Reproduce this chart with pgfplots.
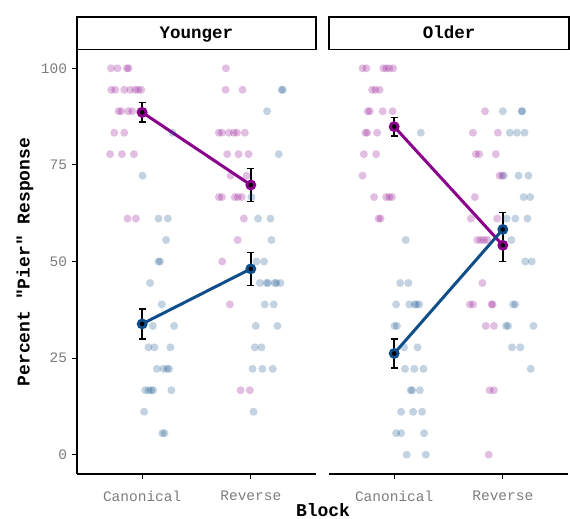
\documentclass[border=0pt]{standalone}
\usepackage{fontspec}
\setmainfont{Liberation Mono}[Ligatures=TeXOff]
\usepackage{pgfplots}
\pgfplotsset{compat=1.18}
\definecolor{pur}{RGB}{139,0,139}
\definecolor{blu}{RGB}{16,78,139}
\definecolor{tickgray}{RGB}{125,125,125}
\pgfplotsset{
  panel/.style={
    scale only axis, width=239pt, height=425pt,
    xmin=0.4, xmax=2.6, ymin=-5, ymax=105,
    axis x line*=bottom,
    tick pos=left,
    xtick={1,2}, xticklabels={Canonical,Reverse},
    ytick={0,25,50,75,100},
    tick align=outside,
    major tick length=5pt,
    axis line style={line width=1.3pt, black},
    tick style={line width=1.1pt, black},
    ticklabel style={font=\fontsize{14.5}{15}\selectfont, text=tickgray},
    xticklabel style={yshift=-8pt},
    yticklabel style={xshift=-1.5pt},
    /pgf/number format/assume math mode=true,
    clip=false,
  },
  jit/.style={only marks, mark=*, mark size=4pt, mark options={draw opacity=0, fill=#1, fill opacity=0.25}},
  mn/.style={line width=3pt, color=#1, mark=*, mark size=5.5pt, mark options={draw opacity=0, fill=#1}},
  eb/.style={only marks, mark=none,
    /pgfplots/error bars/y dir=both, /pgfplots/error bars/y explicit,
    /pgfplots/error bars/error bar style={draw=black, line width=1.5pt},
    /pgfplots/error bars/error mark options={draw=black, rotate=90, mark size=3.5pt, line width=1.5pt}},
}
\begin{document}
\begin{tikzpicture}[x=1pt,y=1pt]
\path[use as bounding box] (0,0) rectangle (570,519);
% ---------------- Younger ----------------
\begin{axis}[panel, at={(77pt,45pt)}, anchor=south west, axis y line*=left]
\addplot[jit=pur] coordinates {
(0.713,100) (0.773,100) (0.860,100) (0.874,100) (1.771,100)
(0.716,94.44) (0.752,94.44) (0.835,94.44) (0.890,94.44) (0.936,94.44) (0.963,94.44) (0.991,94.44) (1.768,94.44) (1.924,94.44)
(0.783,88.89) (0.807,88.89) (0.872,88.89) (0.908,88.89) (0.980,88.89)
(0.743,83.33) (0.835,83.33) (1.706,83.33) (1.734,83.33) (1.798,83.33) (1.844,83.33) (1.872,83.33) (1.945,83.33)
(0.704,77.78) (0.814,77.78) (0.924,77.78) (1.783,77.78) (1.887,77.78) (1.979,77.78)
(1.814,72.22) (1.961,72.22)
(1.706,66.67) (1.734,66.67) (1.853,66.67) (1.881,66.67) (1.917,66.67)
(0.865,61.11) (0.942,61.11) (1.936,61.11)
(1.878,55.56)
(1.737,50)
(1.807,38.89)
(1.906,16.67) (1.991,16.67)
};
\addplot[jit=blu] coordinates {
(2.284,94.44) (2.294,94.44)
(2.150,88.89)
(1.278,83.33)
(2.257,77.78)
(1.003,72.22)
(2.006,66.67)
(1.150,61.11) (1.236,61.11) (2.067,61.11) (2.181,61.11)
(1.220,55.56) (2.190,55.56)
(1.150,50) (1.165,50) (2.052,50) (2.122,50)
(1.073,44.44) (2.083,44.44) (2.144,44.44) (2.159,44.44) (2.220,44.44) (2.236,44.44) (2.272,44.44)
(1.181,38.89) (2.128,38.89) (2.211,38.89)
(1.098,33.33) (1.294,33.33) (2.046,33.33) (2.245,33.33)
(1.058,27.78) (1.113,27.78) (1.260,27.78) (2.037,27.78) (2.098,27.78)
(1.135,22.22) (1.195,22.22) (1.229,22.22) (1.248,22.22) (2.016,22.22) (2.107,22.22) (2.202,22.22)
(1.028,16.67) (1.058,16.67) (1.083,16.67) (1.101,16.67) (1.269,16.67)
(1.018,11.11) (2.025,11.11)
(1.186,5.56) (1.205,5.56)
};
\addplot[mn=pur] coordinates {(1,88.6) (2,69.8)};
\addplot[mn=blu] coordinates {(1,33.85) (2,48.1)};
\addplot[eb] coordinates {(1,88.6) +- (0,2.55) (2,69.8) +- (0,4.3)};
\addplot[eb] coordinates {(1,33.85) +- (0,3.85) (2,48.1) +- (0,4.25)};
\end{axis}
% ---------------- Older ----------------
\begin{axis}[panel, at={(329pt,45pt)}, anchor=south west, axis y line=none]
\addplot[jit=pur] coordinates {
(0.709,100) (0.745,100) (0.900,100) (0.927,100) (0.955,100) (0.991,100)
(0.797,94.44) (0.827,94.44) (0.866,94.44)
(0.757,88.89) (0.775,88.89) (0.894,88.89) (0.985,88.89) (1.836,88.89)
(0.736,83.33) (0.752,83.33) (0.843,83.33) (1.725,83.33) (1.955,83.33)
(0.721,77.78) (0.834,77.78) (1.752,77.78) (1.782,77.78) (1.936,77.78)
(0.709,72.22) (1.970,72.22) (1.995,72.22)
(0.815,66.67) (0.927,66.67) (0.955,66.67) (0.979,66.67) (1.743,66.67)
(0.857,61.11) (0.875,61.11) (1.706,61.11) (1.948,61.11)
(1.766,55.56) (1.797,55.56) (1.827,55.56) (1.857,55.56)
(1.812,44.44)
(1.697,38.89) (1.727,38.89) (1.897,38.89) (1.906,38.89)
(1.843,33.33) (1.918,33.33)
(1.879,16.67) (1.918,16.67)
(1.870,0)
};
\addplot[jit=blu] coordinates {
(2.000,88.89) (2.175,88.89) (2.177,88.89)
(1.245,83.33) (2.064,83.33) (2.130,83.33) (2.200,83.33)
(2.009,72.22) (2.145,72.22) (2.236,72.22)
(2.191,66.67) (2.252,66.67)
(2.034,61.11) (2.115,61.11) (2.227,61.11)
(1.106,55.56) (2.079,55.56)
(2.206,50) (2.266,50)
(1.055,44.44) (1.130,44.44)
(1.018,38.89) (1.139,38.89) (1.188,38.89) (1.206,38.89) (1.230,38.89) (2.094,38.89) (2.115,38.89)
(1.003,33.33) (1.025,33.33) (2.030,33.33) (2.048,33.33) (2.282,33.33)
(1.091,27.78) (1.215,27.78) (2.085,27.78) (2.161,27.78)
(1.100,22.22) (1.185,22.22) (1.270,22.22) (2.257,22.22)
(1.152,16.67) (1.166,16.67) (1.236,16.67)
(1.064,11.11) (1.175,11.11) (1.257,11.11)
(1.018,5.56) (1.064,5.56) (1.275,5.56)
(1.115,0) (1.291,0)
};
\addplot[mn=pur] coordinates {(1,84.9) (2,54.2)};
\addplot[mn=blu] coordinates {(1,26.2) (2,58.3)};
\addplot[eb] coordinates {(1,84.9) +- (0,2.4) (2,54.2) +- (0,4.2)};
\addplot[eb] coordinates {(1,26.2) +- (0,3.75) (2,58.3) +- (0,4.4)};
\end{axis}
% strips
\draw[line width=1.3pt, fill=white] (77,469.5) rectangle (316,502);
\node[anchor=base, font=\bfseries\fontsize{17.5}{18}\selectfont] at (196.5,480.5) {Younger};
\draw[line width=1.3pt, fill=white] (329,469.5) rectangle (569,502);
\node[anchor=base, font=\bfseries\fontsize{17.5}{18}\selectfont] at (449,480.5) {Older};
% axis titles
\node[rotate=90, font=\bfseries\fontsize{18}{18}\selectfont] at (25,257) {Percent "Pier" Response};
\node[font=\bfseries\fontsize{18}{18}\selectfont] at (323,9) {Block};
\end{tikzpicture}
\end{document}
